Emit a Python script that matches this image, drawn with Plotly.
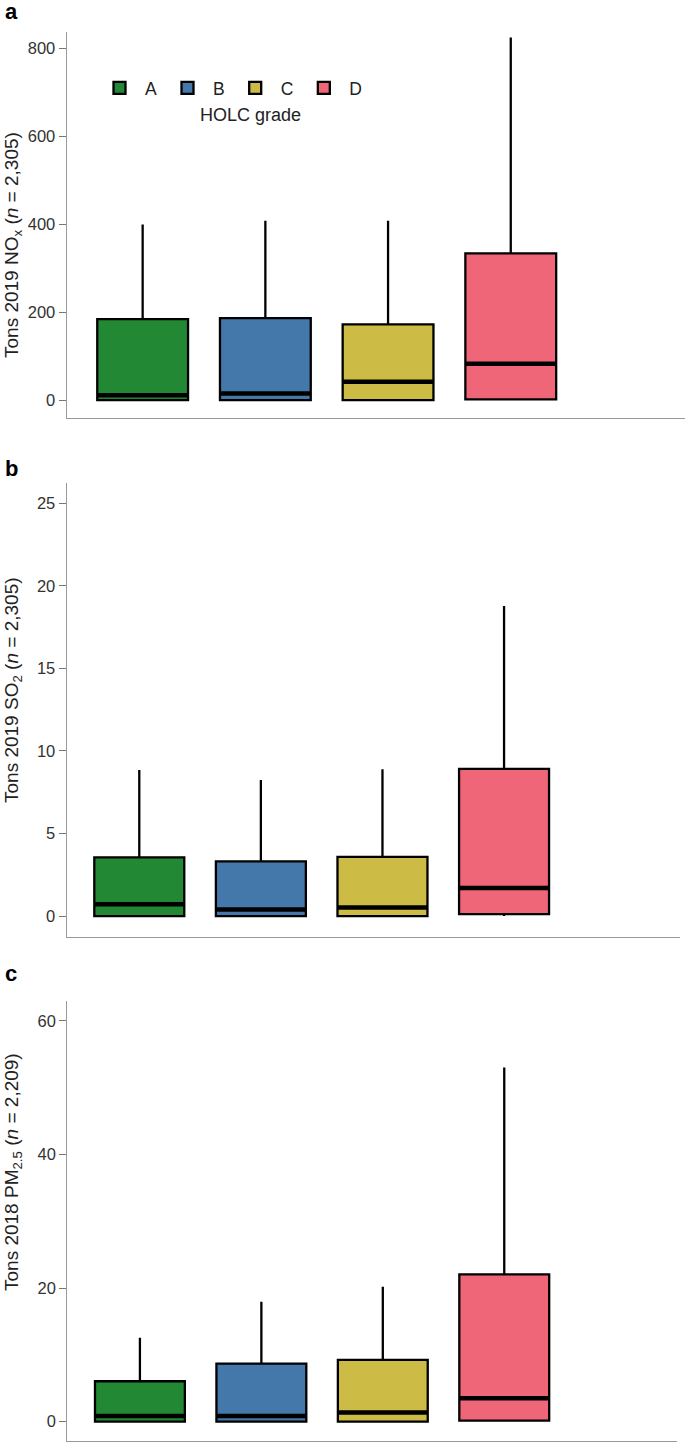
import plotly.graph_objects as go

grades = ["A", "B", "C", "D"]
colors = ["#228833", "#4477AA", "#CCBB44", "#EE6677"]

# Panel a: NOx 2019
nox_lower = [0, 0, 0, 0]
nox_q1 = [0, 0, 0, 1.5]
nox_median = [10.6, 15, 41.7, 82.6]
nox_q3 = [184, 186.5, 172, 333.7]
nox_upper = [399.6, 408, 408, 825]

# Panel b: SO2 2019
so2_lower = [0, 0, 0, 0]
so2_q1 = [0, 0, 0, 0.12]
so2_median = [0.71, 0.40, 0.52, 1.70]
so2_q3 = [3.55, 3.31, 3.59, 8.92]
so2_upper = [8.84, 8.24, 8.90, 18.78]

# Panel c: PM2.5 2018
pm_lower = [0, 0, 0, 0]
pm_q1 = [0, 0, 0, 0.15]
pm_median = [0.85, 0.85, 1.35, 3.49]
pm_q3 = [6.04, 8.68, 9.23, 22.05]
pm_upper = [12.57, 17.96, 20.2, 53.0]

nox_ticks = [0, 200, 400, 600, 800]
so2_ticks = [0, 5, 10, 15, 20, 25]
pm_ticks = [0, 20, 40, 60]

W, H = 685, 1442
BOXW = 0.74
FONT = "Liberation Sans, Arial, sans-serif"

panels = [
    dict(lo=nox_lower, q1=nox_q1, med=nox_median, q3=nox_q3, up=nox_upper,
         ticks=nox_ticks, yr=[-40.2, 838], xr=[-0.619, 4.42],
         xd=[66.7 / W, 1.0], yd=[1 - 417.7 / H, 1 - 31.7 / H]),
    dict(lo=so2_lower, q1=so2_q1, med=so2_median, q3=so2_q3, up=so2_upper,
         ticks=so2_ticks, yr=[-1.25, 26.25], xr=[-0.597, 4.447],
         xd=[66.7 / W, 680 / W], yd=[1 - 936.7 / H, 1 - 482.7 / H]),
    dict(lo=pm_lower, q1=pm_q1, med=pm_median, q3=pm_q3, up=pm_upper,
         ticks=pm_ticks, yr=[-2.9, 63.0], xr=[-0.598, 4.42],
         xd=[67.3 / W, 676.7 / W], yd=[1 - 1441 / H, 1 - 1000.7 / H]),
]

fig = go.Figure()
layout = dict(
    width=W, height=H,
    margin=dict(l=0, r=0, t=0, b=0),
    paper_bgcolor="white", plot_bgcolor="white",
    boxmode="overlay",
    font=dict(family=FONT, size=15, color="#222"),
    showlegend=True,
)

for p_i, p in enumerate(panels):
    suffix = "" if p_i == 0 else str(p_i + 1)
    xref = "x" + suffix
    yref = "y" + suffix
    for i, g in enumerate(grades):
        fig.add_trace(go.Box(
            x=[i], q1=[p["q1"][i]], median=[p["med"][i]], q3=[p["q3"][i]],
            lowerfence=[p["lo"][i]], upperfence=[p["up"][i]],
            width=BOXW, whiskerwidth=0,
            fillcolor=colors[i], line=dict(color="black", width=2.3),
            name=g, legendgroup=g, showlegend=(p_i == 0),
            boxpoints=False, hoverinfo="skip",
            xaxis=xref, yaxis=yref,
        ))
        fig.add_trace(go.Scatter(
            x=[i - BOXW / 2, i + BOXW / 2], y=[p["med"][i], p["med"][i]],
            mode="lines", line=dict(color="black", width=4.5),
            showlegend=False, hoverinfo="skip",
            xaxis=xref, yaxis=yref,
        ))
    layout["xaxis" + suffix] = dict(
        domain=p["xd"], range=p["xr"], anchor=yref,
        showgrid=False, zeroline=False, showticklabels=False,
        ticks="", showline=True, linecolor="#9a9a9a", linewidth=1.3,
        fixedrange=True,
    )
    layout["yaxis" + suffix] = dict(
        domain=p["yd"], range=p["yr"], anchor=xref,
        tickmode="array", tickvals=p["ticks"],
        ticktext=[str(t) for t in p["ticks"]],
        showgrid=False, zeroline=False,
        ticks="outside", ticklen=7, tickcolor="#777", tickwidth=1,
        tickfont=dict(family=FONT, size=16.5, color="#333"),
        showline=True, linecolor="#9a9a9a", linewidth=1.3,
        fixedrange=True,
    )

layout["legend"] = dict(
    orientation="h", x=94 / W, y=1 - 88 / H, xanchor="left", yanchor="middle",
    font=dict(family=FONT, size=17.5, color="#222"),
    bgcolor="rgba(0,0,0,0)", itemwidth=41, traceorder="normal",
)

TITLE_FONT = dict(family=FONT, size=19, color="#222")
annotations = [
    dict(text="HOLC grade", x=250 / W, y=1 - 115 / H, xref="paper", yref="paper",
         showarrow=False, font=dict(family=FONT, size=18, color="#222"),
         xanchor="center", yanchor="middle"),
    dict(text="Tons 2019 NO<sub>x</sub> (<i>n</i> = 2,305)", x=13 / W, y=1 - 245 / H,
         xref="paper", yref="paper", showarrow=False, textangle=-90,
         font=TITLE_FONT, xanchor="center", yanchor="middle"),
    dict(text="Tons 2019 SO<sub>2</sub> (<i>n</i> = 2,305)", x=13 / W, y=1 - 690 / H,
         xref="paper", yref="paper", showarrow=False, textangle=-90,
         font=TITLE_FONT, xanchor="center", yanchor="middle"),
    dict(text="Tons 2018 PM<sub>2.5</sub> (<i>n</i> = 2,209)", x=13 / W, y=1 - 1172 / H,
         xref="paper", yref="paper", showarrow=False, textangle=-90,
         font=TITLE_FONT, xanchor="center", yanchor="middle"),
]
for letter, py in [("a", 12), ("b", 468), ("c", 973)]:
    annotations.append(dict(
        text="<b>" + letter + "</b>", x=3 / W, y=1 - py / H, xref="paper", yref="paper",
        showarrow=False, xanchor="left", yanchor="middle",
        font=dict(family=FONT, size=22, color="black"),
    ))
layout["annotations"] = annotations

fig.update_layout(**layout)
fig.write_html(
    "out.html",
    config={"displayModeBar": False},
    post_script="document.body.style.margin='0';document.body.style.padding='0';"
                "document.documentElement.style.overflow='hidden';",
)
